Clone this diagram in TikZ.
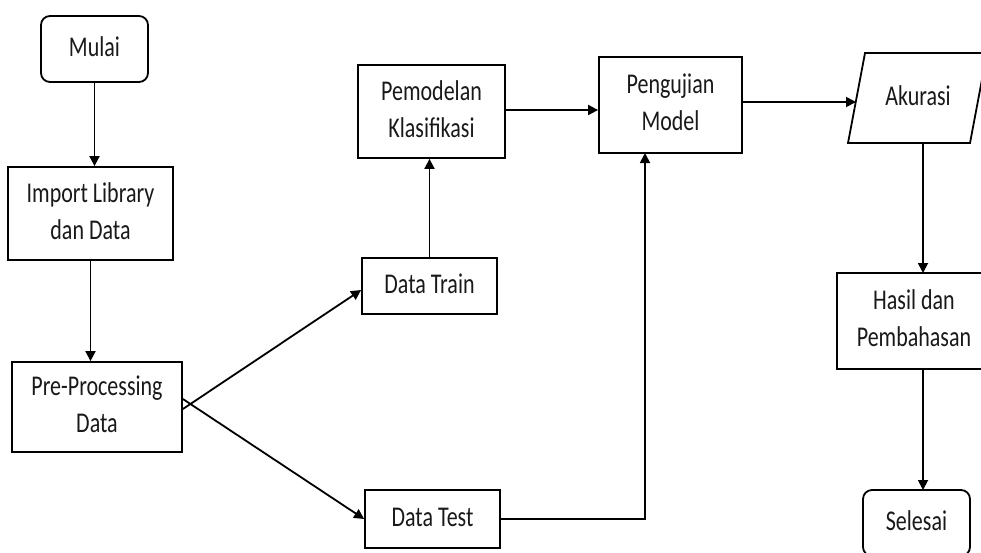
\documentclass[tikz,border=0pt]{standalone}
\usepackage{fontspec}
\usepackage{graphicx}
\setmainfont{Carlito}
\usetikzlibrary{arrows.meta}
\newcommand{\Txt}[1]{\scalebox{1}[1.3]{\begin{tabular}{@{}c@{}}#1\end{tabular}}}
\begin{document}
\begin{tikzpicture}[x=1pt,y=-1pt,
  box/.style={draw, line width=1.8pt, align=center, inner sep=0pt,
    font=\fontsize{22}{28.5}\selectfont, text=black!90},
  rbox/.style={box, rounded corners=9pt},
  lbl/.style={align=center, inner sep=0pt, font=\fontsize{22}{28.5}\selectfont, text=black!90},
  arr/.style={line width=1.8pt, -{Triangle[length=10pt,width=10pt]}}]
\useasboundingbox (0,0) rectangle (981,552);
\clip (0,0) rectangle (981,552);

\node[rbox, minimum width=107pt, minimum height=66pt] (mulai) at (94.5,49) {\Txt{Mulai}};
\node[box, minimum width=165pt, minimum height=93pt] (imp) at (90.5,213.5) {\Txt{Import Library\\dan Data}};
\node[box, minimum width=170pt, minimum height=90pt] (pre) at (97,407) {\Txt{Pre-Processing\\Data}};
\node[box, minimum width=135pt, minimum height=56pt] (train) at (429.5,286) {\Txt{Data Train}};
\node[box, minimum width=135pt, minimum height=58pt] (test) at (432.5,519) {\Txt{Data Test}};
\node[box, minimum width=147pt, minimum height=93pt] (pem) at (431.5,111.5) {\Txt{Pemodelan\\Klasifikasi}};
\node[box, minimum width=143pt, minimum height=96pt] (peng) at (670.5,105) {\Txt{Pengujian\\Model}};

\draw[line width=1.8pt] (865,53) -- (987,53) -- (970,143) -- (848,143) -- cycle;
\node[lbl] (ak) at (918,98) {\Txt{Akurasi}};
\coordinate (akl) at (856,102);
\coordinate (akb) at (923,143);

\node[box, minimum width=154pt, minimum height=96pt] (hasil) at (914,321) {\Txt{Hasil dan\\Pembahasan}};
\node[rbox, minimum width=107pt, minimum height=66pt] (sel) at (916.5,523) {\Txt{Selesai}};
\coordinate (hn) at (923,273);
\coordinate (hs) at (923,369);
\coordinate (sn) at (923,490);
\coordinate (pengin) at (645,153);

\draw[arr] (mulai.south) -- (mulai.south |- imp.north);
\draw[arr] (imp.south) -- (imp.south |- pre.north);
\draw[arr] ([yshift=-2pt]pre.east) -- ([yshift=-4pt]train.west);
\draw[arr] ([yshift=8pt]pre.east) -- (test.west);
\draw[arr] (train.north) -- (train.north |- pem.south);
\draw[arr] ([yshift=1.5pt]pem.east) -- ([yshift=1.5pt]pem.east -| peng.west);
\draw[arr] (test.east) -| (pengin);
\draw[arr] (peng.east |- akl) -- (akl);
\draw[arr] (akb) -- (hn);
\draw[arr] (hs) -- (sn);
\end{tikzpicture}
\end{document}
